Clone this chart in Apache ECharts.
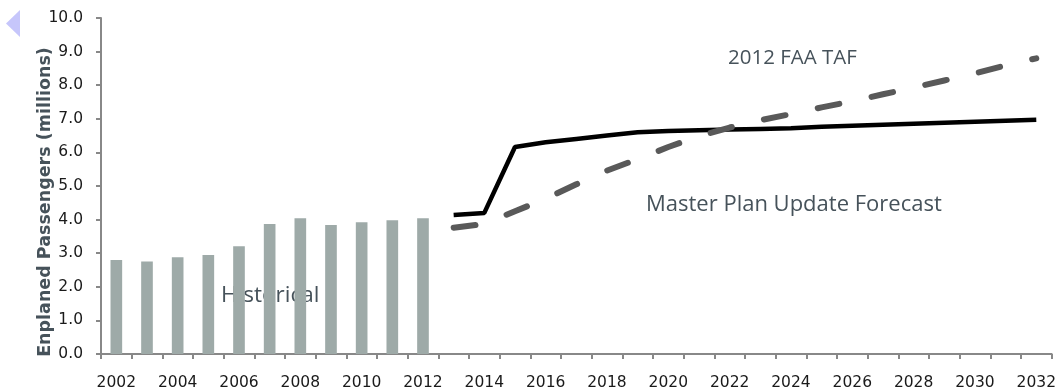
<!DOCTYPE html>
<html>
<head>
<meta charset="utf-8">
<script src="https://cdn.jsdelivr.net/npm/echarts@6/dist/echarts.min.js"></script>
<style>
  html, body { margin: 0; padding: 0; background: #fff; }
  #chart { width: 1059px; height: 392px; }
</style>
</head>
<body>
<div id="chart"></div>
<script>
const years = []
for (let y = 2002; y <= 2032; y++) years.push(String(y))

// historical enplanements 2002-2012
const historical = [2.80, 2.75, 2.88, 2.95, 3.21, 3.87, 4.04, 3.84, 3.92, 3.98, 4.04]

// forecasts 2013-2032
const masterPlan = [4.14, 4.20, 6.16, 6.30, 6.40, 6.50, 6.60, 6.64, 6.66, 6.68, 6.70, 6.72, 6.76, 6.79, 6.82, 6.85, 6.88, 6.91, 6.94, 6.97]
const faaTaf = [3.76, 3.87, 4.25, 4.62, 5.05, 5.46, 5.80, 6.16, 6.48, 6.74, 6.96, 7.14, 7.34, 7.52, 7.73, 7.93, 8.14, 8.35, 8.59, 8.80]

const yTicks = ['0.0', '1.0', '2.0', '3.0', '4.0', '5.0', '6.0', '7.0', '8.0', '9.0', '10.0']

const pad = (arr, before, total) => {
  const out = new Array(before).fill(null).concat(arr)
  while (out.length < total) out.push(null)
  return out
}

const chart = echarts.init(document.getElementById('chart'))
const labelFont = { fontFamily: 'DejaVu Sans', fontSize: 15.5, color: '#1a1a1a' }
const noteStyle = { fontFamily: 'Open Sans', fill: '#46525a' }

chart.setOption({
  animation: false,
  grid: { left: 101, right: 7, top: 18, bottom: 38, containLabel: false },
  xAxis: {
    type: 'category',
    data: years,
    boundaryGap: true,
    axisLine: { lineStyle: { color: '#888', width: 2 } },
    axisTick: { show: true, interval: 0, length: 5, lineStyle: { color: '#888', width: 2 } },
    axisLabel: { ...labelFont, interval: 1, margin: 21 },
    splitLine: { show: false }
  },
  yAxis: {
    type: 'value',
    min: 0,
    max: 10,
    interval: 1,
    axisLine: { show: true, lineStyle: { color: '#888', width: 2 } },
    axisTick: { show: true, length: 5, lineStyle: { color: '#888', width: 2 } },
    axisLabel: { ...labelFont, margin: 18, formatter: v => yTicks[Math.round(v)] },
    splitLine: { show: false }
  },
  series: [
    {
      name: 'Historical',
      type: 'bar',
      data: pad(historical, 0, years.length),
      barWidth: '38%',
      itemStyle: { color: '#9eaaa8' }
    },
    {
      name: 'Master Plan Update Forecast',
      type: 'line',
      data: pad(masterPlan, 11, years.length),
      showSymbol: false,
      lineStyle: { color: '#000', width: 4.5 }
    },
    {
      name: '2012 FAA TAF',
      type: 'line',
      data: pad(faaTaf, 11, years.length),
      showSymbol: false,
      lineStyle: { color: '#595959', width: 6, type: [22, 33], cap: 'round' }
    }
  ],
  graphic: [
    {
      type: 'polygon',
      shape: { points: [[6, 23.5], [20, 10], [20, 37]] },
      style: { fill: '#c6c6fb' }
    },
    {
      type: 'text', x: 45, y: 202, rotation: Math.PI / 2,
      style: {
        text: 'Enplaned Passengers (millions)', align: 'center', verticalAlign: 'middle',
        fontFamily: 'DejaVu Sans', fontSize: 17.5, fontWeight: 'bold', fill: '#46525a'
      }
    },
    { type: 'text', left: 728, top: 48, style: { ...noteStyle, fontSize: 20.5, text: '2012 FAA TAF' } },
    { type: 'text', left: 646, top: 194, style: { ...noteStyle, fontSize: 22, text: 'Master Plan Update Forecast' } },
    { type: 'text', left: 221, top: 284, style: { ...noteStyle, fontSize: 22.5, text: 'Historical' } }
  ]
})
</script>
</body>
</html>
